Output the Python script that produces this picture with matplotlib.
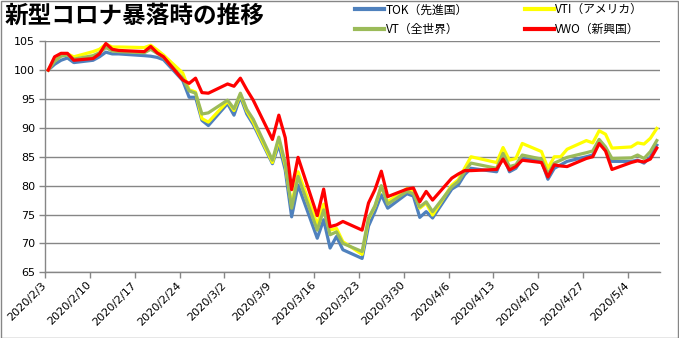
import matplotlib
matplotlib.use("Agg")
import matplotlib.pyplot as plt
import matplotlib.dates as mdates
import matplotlib.transforms as mtransforms
from matplotlib.patches import Rectangle
from matplotlib.ticker import FuncFormatter, MultipleLocator
import datetime as dt

plt.rcParams['font.family'] = ['DejaVu Sans', 'Noto Sans CJK JP']

title = "新型コロナ暴落時の推移"

dates = [
    "2020-02-03", "2020-02-04", "2020-02-05", "2020-02-06", "2020-02-07",
    "2020-02-10", "2020-02-11", "2020-02-12", "2020-02-13", "2020-02-14",
    "2020-02-18", "2020-02-19", "2020-02-20", "2020-02-21",
    "2020-02-24", "2020-02-25", "2020-02-26", "2020-02-27", "2020-02-28",
    "2020-03-02", "2020-03-03", "2020-03-04", "2020-03-05", "2020-03-06",
    "2020-03-09", "2020-03-10", "2020-03-11", "2020-03-12", "2020-03-13",
    "2020-03-16", "2020-03-17", "2020-03-18", "2020-03-19", "2020-03-20",
    "2020-03-23", "2020-03-24", "2020-03-25", "2020-03-26", "2020-03-27",
    "2020-03-30", "2020-03-31", "2020-04-01", "2020-04-02", "2020-04-03",
    "2020-04-06", "2020-04-07", "2020-04-08", "2020-04-09",
    "2020-04-13", "2020-04-14", "2020-04-15", "2020-04-16", "2020-04-17",
    "2020-04-20", "2020-04-21", "2020-04-22", "2020-04-23", "2020-04-24",
    "2020-04-27", "2020-04-28", "2020-04-29", "2020-04-30", "2020-05-01",
    "2020-05-04", "2020-05-05", "2020-05-06", "2020-05-07", "2020-05-08",
]

tok = [
    100.0, 101.0, 101.7, 102.1, 101.3,
    101.7, 102.3, 103.1, 102.8, 102.8,
    102.5, 102.4, 102.2, 101.8,
    98.2, 95.3, 95.3, 91.3, 90.4,
    94.2, 92.2, 95.4, 92.4, 90.6,
    83.8, 87.1, 82.7, 74.6, 80.1,
    70.9, 74.1, 69.2, 71.2, 68.9,
    67.4, 73.0, 75.5, 78.4, 76.1,
    78.6, 78.2, 74.5, 75.5, 74.4,
    79.4, 80.1, 81.9, 83.0,
    82.4, 85.3, 82.4, 83.0, 84.7,
    84.3, 81.1, 83.0, 83.6, 84.2,
    85.0, 85.3, 87.6, 86.3, 84.2,
    84.2, 84.4, 83.9, 85.0, 87.0,
]

vti = [
    100.0, 101.8, 102.6, 102.8, 102.3,
    103.2, 103.6, 104.5, 104.0, 104.0,
    103.9, 104.3, 103.5, 102.6,
    99.5, 96.6, 96.2, 91.6, 91.0,
    94.6, 93.0, 95.8, 92.9, 91.0,
    84.0, 88.0, 83.5, 76.6, 82.4,
    73.3, 76.8, 72.3, 72.6, 70.3,
    68.1, 74.2, 76.4, 79.8, 77.2,
    79.5, 79.1, 76.1, 77.0, 74.9,
    80.1, 81.0, 83.0, 85.0,
    84.0, 86.6, 84.4, 84.7, 87.3,
    85.9, 83.0, 85.0, 85.0, 86.3,
    87.8, 87.4, 89.5, 88.9, 86.5,
    86.7, 87.4, 87.2, 88.2, 89.9,
]

vt = [
    100.0, 101.5, 102.4, 102.6, 101.9,
    102.5, 103.0, 103.9, 103.3, 103.2,
    103.0, 103.6, 102.9, 102.2,
    98.6, 96.4, 96.0, 92.4, 92.6,
    94.8, 93.3, 96.0, 93.2, 91.5,
    84.4, 88.4, 83.9, 76.1, 81.6,
    72.3, 75.8, 71.5, 72.0, 70.0,
    68.6, 74.4, 76.5, 80.0, 76.8,
    79.0, 78.6, 76.3, 77.2, 75.5,
    79.8, 80.7, 82.4, 83.9,
    83.0, 85.6, 83.3, 83.6, 85.3,
    84.6, 82.0, 83.9, 84.4, 84.9,
    85.7, 86.0, 88.0, 86.7, 84.7,
    84.8, 85.3, 84.7, 85.9, 87.8,
]

vwo = [
    100.0, 102.3, 102.9, 102.9, 101.7,
    102.0, 102.8, 104.6, 103.6, 103.4,
    103.2, 104.1, 103.0, 102.3,
    98.3, 97.7, 98.6, 96.1, 96.0,
    97.6, 97.2, 98.6, 96.6, 94.8,
    88.0, 92.2, 88.3, 79.3, 84.9,
    74.8, 79.4, 72.9, 73.2, 73.8,
    72.3, 77.0, 79.3, 82.5, 78.1,
    79.4, 79.6, 77.2, 79.0, 77.5,
    81.3, 82.0, 82.6, 82.6,
    82.8, 84.6, 82.7, 83.3, 84.4,
    84.0, 81.5, 83.6, 83.4, 83.3,
    84.7, 85.0, 87.3, 86.0, 82.8,
    84.0, 84.3, 84.1, 84.6, 86.5,
]

series_names = ["TOK（先進国）", "VTI（アメリカ）", "VT（全世界）", "VWO（新興国）"]
series_colors = ["#4F81BD", "#FFFF00", "#9BBB59", "#FF0000"]

W, H = 679, 338
fig = plt.figure(figsize=(W / 100, H / 100), dpi=100)
fig.patches.append(Rectangle((0.5 / W, 0.5 / H), 1 - 1.5 / W, 1 - 1.5 / H,
                             transform=fig.transFigure, fill=False,
                             edgecolor="#868686", linewidth=1.0))

left, right, top, bottom = 45, 660, 41.2, 272.3
ax = fig.add_axes([left / W, 1 - bottom / H, (right - left) / W, (bottom - top) / H])

x = [dt.datetime.strptime(d, "%Y-%m-%d") + dt.timedelta(hours=12) for d in dates]
lines = []
for vals, name, col in zip([tok, vti, vt, vwo], series_names, series_colors):
    ln, = ax.plot(x, vals, color=col, linewidth=2.3, solid_joinstyle="round",
                  label=name, zorder=3)
    lines.append(ln)

ax.set_ylim(65, 105)
ax.yaxis.set_major_locator(MultipleLocator(5))
ax.set_xlim(dt.datetime(2020, 2, 3), dt.datetime(2020, 5, 9))
ticks = [dt.datetime(2020, 2, 3) + dt.timedelta(days=7 * i) for i in range(14)]
ax.set_xticks(ticks)
ax.xaxis.set_major_formatter(FuncFormatter(
    lambda v, p: (lambda d: f"{d.year}/{d.month}/{d.day}")(mdates.num2date(v))))

gc = "#868686"
ax.grid(axis="y", color=gc, linewidth=1.0, zorder=0)
ax.grid(axis="x", visible=False)
for s in ["top", "right"]:
    ax.spines[s].set_visible(False)
for s in ["left", "bottom"]:
    ax.spines[s].set_color(gc)
    ax.spines[s].set_linewidth(1.0)
ax.tick_params(axis="both", colors=gc, length=4, width=1.0, labelcolor="black",
               labelsize=8)
ax.tick_params(axis="y", pad=3)
shift = mtransforms.ScaledTranslation(4 / 100, 0, fig.dpi_scale_trans)
for lab in ax.get_xticklabels():
    lab.set_rotation(45)
    lab.set_ha("right")
    lab.set_rotation_mode("anchor")
    lab.set_va("center")
    lab.set_transform(lab.get_transform() + shift)
ax.tick_params(axis="x", pad=4)

fig.text(5 / W, 1 - 16 / H, title, fontsize=17, fontweight="bold",
         family=["Noto Sans CJK JP", "DejaVu Sans"], va="center", ha="left")

# row-wise legend: TOK, VTI / VT, VWO (matplotlib fills columns first)
order = [0, 2, 1, 3]
leg = fig.legend(handles=[lines[i] for i in order],
                 labels=[series_names[i] for i in order], ncol=2,
                 loc="center", bbox_to_anchor=(499 / W, 1 - 19.5 / H),
                 frameon=False,
                 prop={"family": ["Noto Sans CJK JP", "DejaVu Sans"], "size": 8.5},
                 handlelength=2.5, handletextpad=0.1, columnspacing=4.8,
                 labelspacing=0.55, borderaxespad=0)
for h in leg.legend_handles:
    h.set_linewidth(3.0)

fig.savefig("out.png", dpi=100)
